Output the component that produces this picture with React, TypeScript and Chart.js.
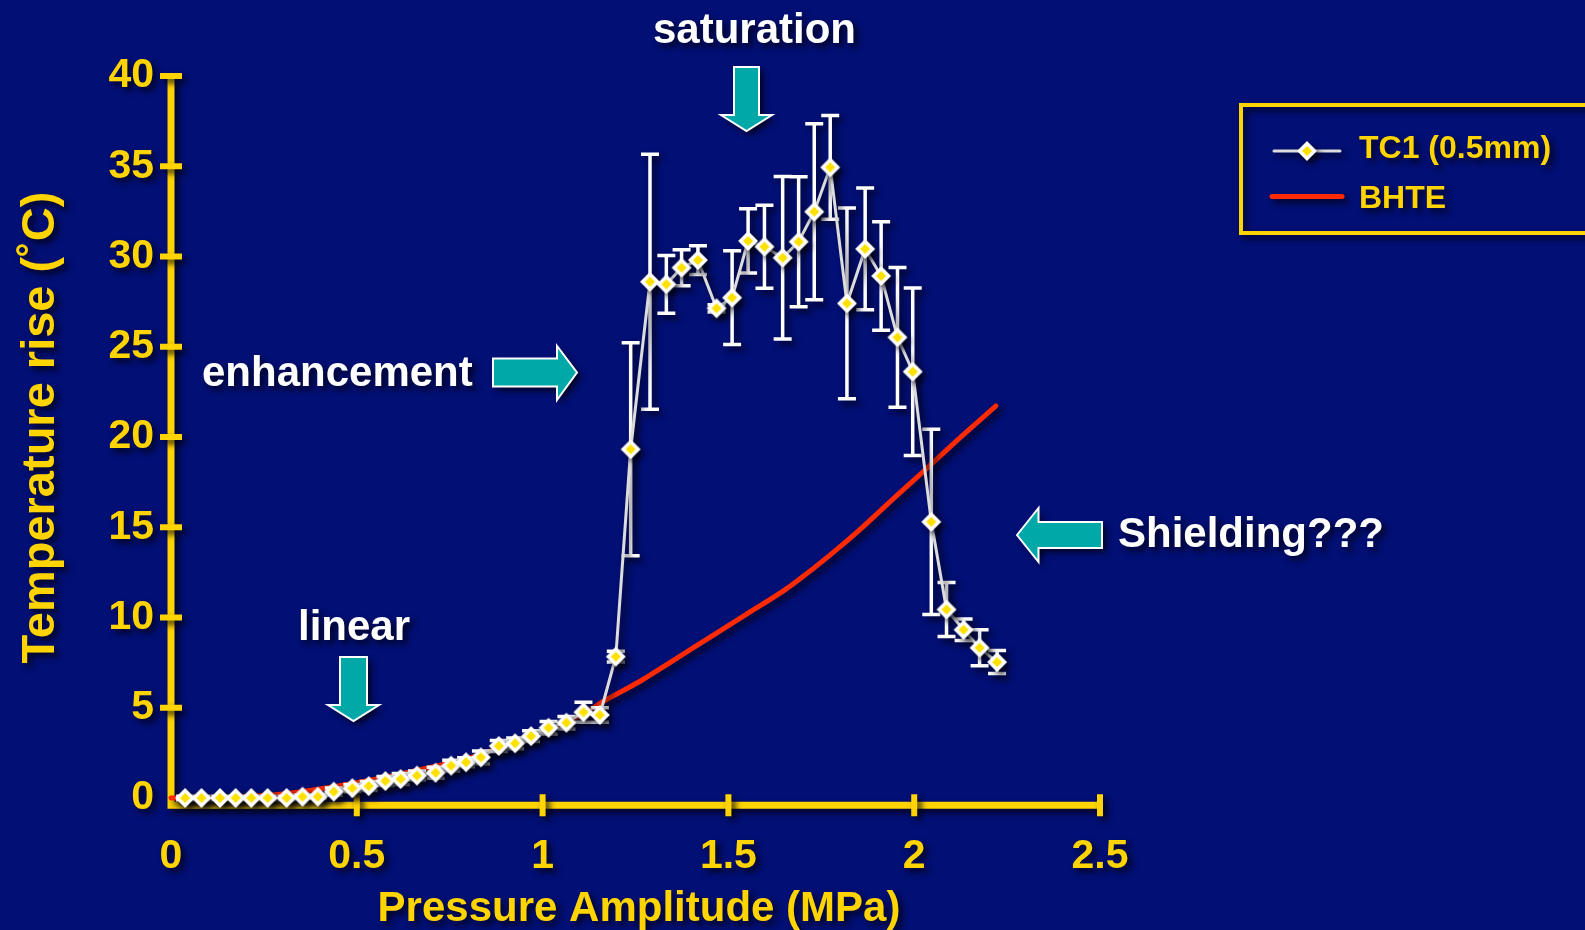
import React, { useEffect, useRef } from "react";
import { Chart, registerables } from "chart.js";

Chart.register(...registerables);

// Thermocouple TC1 (0.5 mm): pressure amplitude (MPa), temperature rise (°C), ± error
const pressureMPa = [
  0.038, 0.082, 0.132, 0.174, 0.216, 0.26, 0.311, 0.354, 0.395, 0.438,
  0.488, 0.532, 0.577, 0.618, 0.662, 0.712, 0.754, 0.794, 0.834, 0.882,
  0.926, 0.969, 1.016, 1.064, 1.11, 1.154, 1.197, 1.237, 1.289, 1.333,
  1.374, 1.418, 1.468, 1.51, 1.553, 1.597, 1.646, 1.689, 1.731, 1.774,
  1.819, 1.868, 1.911, 1.955, 1.996, 2.046, 2.087, 2.133, 2.176, 2.223,
];
const tc1Rise = [
  0, 0, 0, 0, 0, 0, 0, 0.07, 0.07, 0.35,
  0.54, 0.66, 0.94, 1.05, 1.24, 1.4, 1.79, 1.98, 2.25, 2.88,
  3.03, 3.43, 3.89, 4.17, 4.75, 4.6, 7.83, 19.32, 28.6, 28.46,
  29.38, 29.8, 27.13, 27.72, 30.86, 30.54, 29.93, 30.82, 32.48, 34.94,
  27.4, 30.42, 28.92, 25.52, 23.62, 15.3, 10.44, 9.32, 8.32, 7.53,
];
const tc1Err = [
  0.1, 0.1, 0.1, 0.1, 0.1, 0.1, 0.1, 0.1, 0.1, 0.2,
  0.2, 0.25, 0.25, 0.3, 0.25, 0.3, 0.3, 0.25, 0.35, 0.3,
  0.3, 0.3, 0.35, 0.35, 0.55, 0.4, 0.3, 5.9, 7.07, 1.6,
  1.0, 0.8, 0.2, 2.6, 1.78, 2.3, 4.5, 3.6, 4.87, 2.87,
  5.28, 3.37, 3.0, 3.87, 4.64, 5.13, 1.5, 0.6, 1.0, 0.64,
];

// BHTE model prediction
const bhtePressure = [
  0, 0.1, 0.2, 0.3, 0.4, 0.5, 0.6, 0.7, 0.8, 0.9, 1.0, 1.1, 1.17,
  1.26, 1.35, 1.45, 1.55, 1.65, 1.69, 1.77, 1.85, 1.95, 2.02, 2.12, 2.22,
];
const bhteRise = [
  0, 0.02, 0.08, 0.22, 0.5, 0.85, 1.25, 1.7, 2.2, 2.9, 3.65, 4.55, 5.43,
  6.44, 7.6, 8.9, 10.2, 11.5, 12.1, 13.4, 14.8, 16.7, 18.0, 19.9, 21.72,
];

const xTickValues = [0, 0.5, 1, 1.5, 2, 2.5];
const yTickValues = [0, 5, 10, 15, 20, 25, 30, 35, 40];

const W = 1585;
const H = 930;
const NAVY = "#020F74";
const GOLD = "#FFD400";
const TEAL = "#00A9A7";
const RED = "#FF2A00";
const TC1_LINE = "#DCDCDC";
const MARKER_FILL = "#FFE000";
const FONT = '"Liberation Sans", Arial, Helvetica, sans-serif';

type Pt = [number, number];

// White-rimmed yellow diamond, pre-rendered so its drop shadow falls only outside it
function makeMarker(r: number, bw: number): HTMLCanvasElement {
  const size = Math.ceil(2 * (r + bw)) + 2;
  const c = document.createElement("canvas");
  c.width = size;
  c.height = size;
  const g = c.getContext("2d")!;
  const m = size / 2;
  g.beginPath();
  g.moveTo(m, m - r);
  g.lineTo(m + r, m);
  g.lineTo(m, m + r);
  g.lineTo(m - r, m);
  g.closePath();
  g.fillStyle = MARKER_FILL;
  g.fill();
  g.lineWidth = bw;
  g.lineJoin = "miter";
  g.strokeStyle = "#FFFFFF";
  g.stroke();
  return c;
}

function drawArrow(ctx: CanvasRenderingContext2D, pts: Pt[]) {
  ctx.save();
  ctx.beginPath();
  pts.forEach(([x, y], i) => (i ? ctx.lineTo(x, y) : ctx.moveTo(x, y)));
  ctx.closePath();
  ctx.fillStyle = TEAL;
  ctx.fill();
  ctx.shadowColor = "transparent";
  ctx.lineWidth = 2;
  ctx.strokeStyle = "#FFFFFF";
  ctx.lineJoin = "miter";
  ctx.stroke();
  ctx.restore();
}

const decor = {
  id: "decor",
  beforeDraw(chart: any) {
    const ctx: CanvasRenderingContext2D = chart.ctx;
    ctx.save();
    ctx.shadowColor = "rgba(0, 0, 12, 0.8)";
    ctx.shadowBlur = 6;
    ctx.shadowOffsetX = 4;
    ctx.shadowOffsetY = 4;
  },
  beforeDatasetsDraw(chart: any) {
    const ctx: CanvasRenderingContext2D = chart.ctx;
    const { left, right, bottom, top } = chart.chartArea;
    const xs = chart.scales.x;
    const ys = chart.scales.y;
    ctx.save();
    ctx.strokeStyle = GOLD;
    ctx.lineCap = "butt";
    ctx.lineWidth = 7;
    // axis lines
    ctx.beginPath();
    ctx.moveTo(left, top);
    ctx.lineTo(left, bottom + 3.5);
    ctx.moveTo(left - 3.5, bottom);
    ctx.lineTo(right, bottom);
    ctx.stroke();
    // tick marks crossing the axes
    ctx.lineWidth = 6;
    ctx.beginPath();
    yTickValues.forEach((v) => {
      if (v === 0) return;
      const y = ys.getPixelForValue(v);
      ctx.moveTo(left - 11, y);
      ctx.lineTo(left + 11, y);
    });
    xTickValues.forEach((v) => {
      if (v === 0) return;
      const x = xs.getPixelForValue(v);
      ctx.moveTo(x, bottom - 11);
      ctx.lineTo(x, bottom + 11);
    });
    ctx.stroke();
    ctx.restore();
  },
  beforeDatasetDraw(chart: any, args: any) {
    if (args.index !== 0) return;
    const ctx: CanvasRenderingContext2D = chart.ctx;
    const xs = chart.scales.x;
    const ys = chart.scales.y;
    ctx.save();
    ctx.strokeStyle = "#FFFFFF";
    ctx.lineWidth = 3.5;
    ctx.beginPath();
    pressureMPa.forEach((p, i) => {
      const e = tc1Err[i];
      if (!e) return;
      const x = xs.getPixelForValue(p);
      const y1 = ys.getPixelForValue(tc1Rise[i] + e);
      const y2 = ys.getPixelForValue(tc1Rise[i] - e);
      ctx.moveTo(x, y1);
      ctx.lineTo(x, y2);
      ctx.moveTo(x - 9, y1);
      ctx.lineTo(x + 9, y1);
      ctx.moveTo(x - 9, y2);
      ctx.lineTo(x + 9, y2);
    });
    ctx.stroke();
    ctx.restore();
  },
  afterDraw(chart: any) {
    const ctx: CanvasRenderingContext2D = chart.ctx;

    // axis titles
    ctx.save();
    ctx.fillStyle = GOLD;
    ctx.font = `bold 42px ${FONT}`;
    ctx.textAlign = "center";
    ctx.textBaseline = "alphabetic";
    ctx.fillText("Pressure Amplitude (MPa)", 639, 921);
    ctx.translate(53.5, 427.5);
    ctx.rotate(-Math.PI / 2);
    ctx.font = `bold 47px ${FONT}`;
    ctx.fillText("Temperature rise (˚C)", 0, 0);
    ctx.restore();

    // annotations
    ctx.save();
    ctx.fillStyle = "#FFFFFF";
    ctx.font = `bold 42px ${FONT}`;
    ctx.textBaseline = "alphabetic";
    ctx.textAlign = "left";
    ctx.fillText("saturation", 653, 42.5);
    ctx.fillText("linear", 298, 640);
    ctx.fillText("enhancement", 202, 386);
    ctx.fillText("Shielding???", 1118, 546.5);
    ctx.restore();

    drawArrow(ctx, [[734, 67], [759, 67], [759, 115], [772, 115], [746.5, 131], [721, 115], [734, 115]]);
    drawArrow(ctx, [[340, 657], [367, 657], [367, 705], [379, 705], [353.5, 721], [328, 705], [340, 705]]);
    drawArrow(ctx, [[493, 358.5], [557, 358.5], [557, 346], [577, 372.5], [557, 400], [557, 386.5], [493, 386.5]]);
    drawArrow(ctx, [[1017, 535], [1038.5, 508], [1038.5, 522], [1102, 522], [1102, 548], [1038.5, 548], [1038.5, 562]]);

    // legend box
    const ds = chart.data.datasets;
    ctx.save();
    ctx.strokeStyle = GOLD;
    ctx.lineWidth = 4;
    ctx.strokeRect(1241, 105, 360, 128);
    ctx.lineCap = "round";
    ctx.strokeStyle = ds[0].borderColor;
    ctx.lineWidth = 3;
    ctx.beginPath();
    ctx.moveTo(1274, 151);
    ctx.lineTo(1340, 151);
    ctx.stroke();
    const lm: HTMLCanvasElement = ds[0].pointStyle;
    ctx.drawImage(lm, 1307 - lm.width / 2, 151 - lm.height / 2);
    ctx.strokeStyle = ds[1].borderColor;
    ctx.lineWidth = 5;
    ctx.beginPath();
    ctx.moveTo(1272, 196.5);
    ctx.lineTo(1342, 196.5);
    ctx.stroke();
    ctx.fillStyle = GOLD;
    ctx.font = `bold 32px ${FONT}`;
    ctx.textAlign = "left";
    ctx.textBaseline = "alphabetic";
    ctx.fillText(ds[0].label, 1359, 157.5);
    ctx.fillText(ds[1].label, 1359, 207.5);
    ctx.restore();

    ctx.restore();
  },
};

export default function App() {
  const canvasRef = useRef<HTMLCanvasElement | null>(null);

  useEffect(() => {
    const canvas = canvasRef.current;
    if (!canvas) return;
    const tickFont = { family: FONT, size: 41, weight: "bold" as const, lineHeight: 1 };
    const marker = makeMarker(7.5, 3.5);
    const chart = new Chart(canvas, {
      type: "line",
      data: {
        datasets: [
          {
            label: "TC1 (0.5mm)",
            data: pressureMPa.map((x, i) => ({ x, y: tc1Rise[i] })),
            borderColor: TC1_LINE,
            borderWidth: 3,
            pointStyle: marker,
            pointRadius: 10,
            tension: 0,
            clip: false,
          },
          {
            label: "BHTE",
            data: bhtePressure.map((x, i) => ({ x, y: bhteRise[i] })),
            borderColor: RED,
            borderWidth: 5,
            borderCapStyle: "round",
            pointRadius: 0,
            cubicInterpolationMode: "monotone",
            clip: false,
          },
        ],
      },
      options: {
        responsive: false,
        maintainAspectRatio: false,
        animation: false,
        devicePixelRatio: 1,
        events: [],
        layout: { padding: { left: 0, top: 76, right: W - 1100, bottom: 0 } },
        plugins: {
          legend: { display: false },
          tooltip: { enabled: false },
          title: { display: false },
        },
        scales: {
          x: {
            type: "linear",
            min: 0,
            max: 2.5,
            grid: { display: false, drawTicks: false },
            border: { display: false },
            afterBuildTicks: (s: any) => {
              s.ticks = xTickValues.map((value) => ({ value }));
            },
            afterFit: (s: any) => {
              s.height = H - 805.2;
            },
            ticks: {
              color: GOLD,
              font: tickFont,
              padding: 31,
              maxRotation: 0,
              autoSkip: false,
              callback: (v: any) => String(v),
            },
          },
          y: {
            type: "linear",
            min: -0.4,
            max: 40,
            grid: { display: false, drawTicks: false },
            border: { display: false },
            afterBuildTicks: (s: any) => {
              s.ticks = yTickValues.map((value) => ({ value }));
            },
            afterFit: (s: any) => {
              s.width = 171;
            },
            ticks: {
              color: GOLD,
              font: tickFont,
              padding: 17,
              autoSkip: false,
              callback: (v: any) => String(v),
            },
          },
        },
      },
      plugins: [decor],
    } as any);
    return () => chart.destroy();
  }, []);

  return (
    <div
      style={{
        position: "fixed",
        left: 0,
        top: 0,
        width: W,
        height: H,
        background: NAVY,
      }}
    >
      <canvas
        ref={canvasRef}
        width={W}
        height={H}
        style={{ display: "block", width: W, height: H }}
      />
    </div>
  );
}
